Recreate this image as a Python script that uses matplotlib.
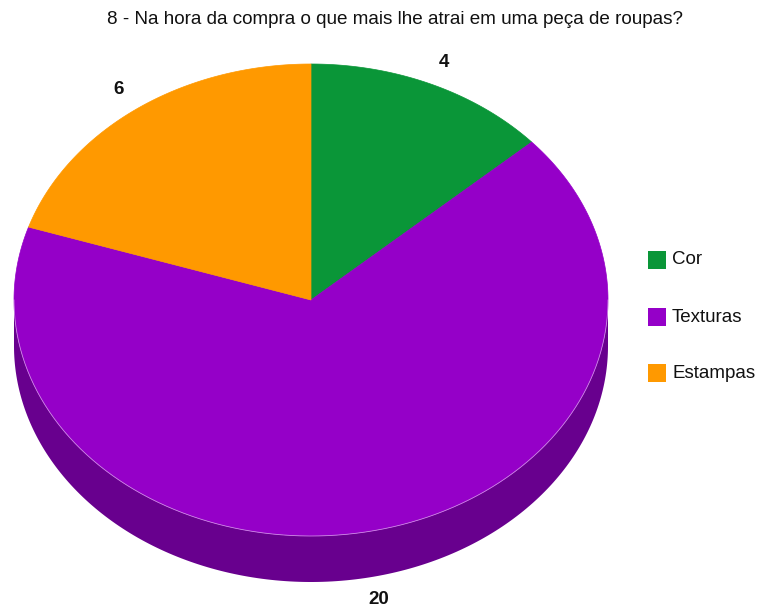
import numpy as np
import matplotlib
matplotlib.use("Agg")
import matplotlib.pyplot as plt
from matplotlib.patches import Polygon, Rectangle

plt.rcParams['font.family'] = ['Liberation Sans', 'DejaVu Sans']

title = "8 - Na hora da compra o que mais lhe atrai em uma peça de roupas?"
categories = ["Cor", "Texturas", "Estampas"]
values = [4, 20, 6]
top_colors = ["#0a9638", "#9500c8", "#ff9900"]
side_colors = ["#066a27", "#68008e", "#b36b00"]

W, H = 760, 608
fig = plt.figure(figsize=(W / 100, H / 100), dpi=100)
ax = fig.add_axes([0, 0, 1, 1])
ax.set_xlim(0, W)
ax.set_ylim(H, 0)
ax.axis("off")

# pie geometry (pixel units, y downward)
cx, cy = 311, 300
rx, ry = 297, 236
depth = 46


def edge(theta):
    # theta: radians clockwise from 12 o'clock
    return cx + rx * np.sin(theta), cy - ry * np.cos(theta)


total = float(sum(values))
bounds = np.concatenate([[0], np.cumsum(values)]) / total * 2 * np.pi

# side walls (front half only: angles between pi/2 and 3pi/2)
for i in range(len(values)):
    a0 = max(bounds[i], np.pi / 2)
    a1 = min(bounds[i + 1], 3 * np.pi / 2)
    if a1 <= a0:
        continue
    t = np.linspace(a0, a1, 200)
    x, y = edge(t)
    xs = np.concatenate([x, x[::-1]])
    ys = np.concatenate([y, y[::-1] + depth])
    ax.add_patch(Polygon(np.column_stack([xs, ys]), closed=True,
                         facecolor=side_colors[i], edgecolor="none"))

# top faces
for i in range(len(values)):
    t = np.linspace(bounds[i], bounds[i + 1], 300)
    x, y = edge(t)
    xs = np.concatenate([[cx], x])
    ys = np.concatenate([[cy], y])
    ax.add_patch(Polygon(np.column_stack([xs, ys]), closed=True,
                         facecolor=top_colors[i], edgecolor=top_colors[i],
                         linewidth=0.5))

# faint highlight along the front rim of the top face
t = np.linspace(np.pi / 2, 3 * np.pi / 2, 300)
x, y = edge(t)
ax.plot(x, y, color="white", lw=0.6, alpha=0.5)

# value labels
for i, v in enumerate(values):
    mid = (bounds[i] + bounds[i + 1]) / 2
    lx = cx + 1.1 * rx * np.sin(mid)
    ly = cy - 1.1 * ry * np.cos(mid)
    if np.cos(mid) < 0:
        ly += depth
    ax.text(lx, ly, str(v), ha="center", va="center", fontsize=13.5,
            fontweight="bold", color="#111111")

# title
ax.text(395, 19, title, ha="center", va="center", fontsize=13.6, color="#111111")

# legend
leg_y = [260, 317, 373]
for i, name in enumerate(categories):
    ax.add_patch(Rectangle((648, leg_y[i] - 9), 18, 18,
                           facecolor=top_colors[i], edgecolor="none"))
    ax.text(672, leg_y[i], name, ha="left", va="center", fontsize=13.5,
            color="#111111")

fig.savefig("out.png", dpi=100, facecolor="white")
